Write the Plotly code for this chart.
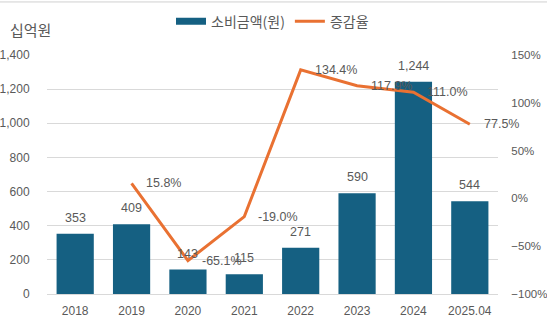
import plotly.graph_objects as go

# 연도별 소비금액(십억원)과 전년 대비 증감율(%)
categories = ["2018", "2019", "2020", "2021", "2022", "2023", "2024", "2025.04"]
spending = [353, 409, 143, 115, 271, 590, 1244, 544]
growth_rate = [None, 15.8, -65.1, -19.0, 134.4, 117.9, 111.0, 77.5]

BAR_COLOR = "#156082"
LINE_COLOR = "#E97132"
TEXT_COLOR = "#595959"
GRID_COLOR = "#D9D9D9"
FONT = "Liberation Sans, Arial, Noto Sans CJK KR, sans-serif"
KR_FONT = "Noto Sans CJK KR"

fig = go.Figure()

fig.add_trace(go.Bar(
    x=categories, y=spending, name="소비금액(원)",
    marker=dict(color=BAR_COLOR, line=dict(width=0)),
    yaxis="y", showlegend=False,
))

fig.add_trace(go.Scatter(
    x=categories, y=growth_rate, name="증감율",
    mode="lines", line=dict(color=LINE_COLOR, width=3),
    yaxis="y2", connectgaps=False, showlegend=False,
))

# 범례 항목 (막대는 넓은 띠 모양으로 표시)
fig.add_trace(go.Scatter(
    x=[categories[0]], y=[None], name="소비금액(원)", mode="lines",
    line=dict(color=BAR_COLOR, width=7), yaxis="y", hoverinfo="skip",
))
fig.add_trace(go.Scatter(
    x=[categories[0]], y=[None], name="증감율", mode="lines",
    line=dict(color=LINE_COLOR, width=3), yaxis="y2", hoverinfo="skip",
))

# 범주형 축에서 주석 위치는 범주 순번(0부터)으로 지정
annotations = []
# 막대 값 레이블
for i, v in enumerate(spending):
    annotations.append(dict(
        x=i, y=v, xref="x", yref="y", text=f"{v:,}",
        showarrow=False, yanchor="bottom", yshift=7,
        font=dict(size=12.5, color=TEXT_COLOR, family=FONT),
    ))
# 증감율 레이블
for i, r in enumerate(growth_rate):
    if r is None:
        continue
    annotations.append(dict(
        x=i, y=r, xref="x", yref="y2", text=f"{r:.1f}%",
        showarrow=False, xanchor="left", yanchor="middle", xshift=12,
        font=dict(size=12.5, color=TEXT_COLOR, family=FONT),
    ))
# 왼쪽 축 단위
annotations.append(dict(
    x=-0.087, y=1.105, xref="paper", yref="paper", text="십억원",
    showarrow=False, xanchor="left", yanchor="middle",
    font=dict(size=15, color=TEXT_COLOR, family=KR_FONT),
))

fig.update_layout(
    width=547, height=329,
    margin=dict(l=47, r=49, t=55, b=35, autoexpand=False),
    paper_bgcolor="white", plot_bgcolor="white",
    font=dict(family=FONT, size=12, color=TEXT_COLOR),
    bargap=0.34,
    showlegend=True,
    legend=dict(
        orientation="h", x=0.5, xanchor="center", y=1.14, yanchor="middle",
        font=dict(size=14, color=TEXT_COLOR, family=KR_FONT),
    ),
    xaxis=dict(
        type="category", categoryorder="array", categoryarray=categories,
        range=[-0.5, len(categories) - 0.5], automargin=False,
        showgrid=False, showline=True, linecolor=GRID_COLOR, linewidth=1,
        ticks="outside", ticklen=6, tickcolor="rgba(0,0,0,0)",
        tickfont=dict(size=12, color=TEXT_COLOR),
    ),
    yaxis=dict(
        range=[0, 1400], dtick=200, tickformat=",d", automargin=False,
        showgrid=True, gridcolor=GRID_COLOR, gridwidth=1,
        zeroline=False, showline=False,
        ticks="outside", ticklen=14, tickcolor="rgba(0,0,0,0)",
        tickfont=dict(size=12, color=TEXT_COLOR),
    ),
    yaxis2=dict(
        range=[-100, 150], dtick=50, ticksuffix="%", automargin=False,
        overlaying="y", side="right",
        showgrid=False, zeroline=False, showline=False,
        ticks="outside", ticklen=10, tickcolor="rgba(0,0,0,0)",
        tickfont=dict(size=11.5, color=TEXT_COLOR),
    ),
    annotations=annotations,
    shapes=[dict(
        type="line", xref="paper", yref="paper",
        x0=-0.11, x1=1.11, y0=1.222, y1=1.222,
        line=dict(color="#D0D0D0", width=1),
    )],
)

fig.write_html("out.html")
